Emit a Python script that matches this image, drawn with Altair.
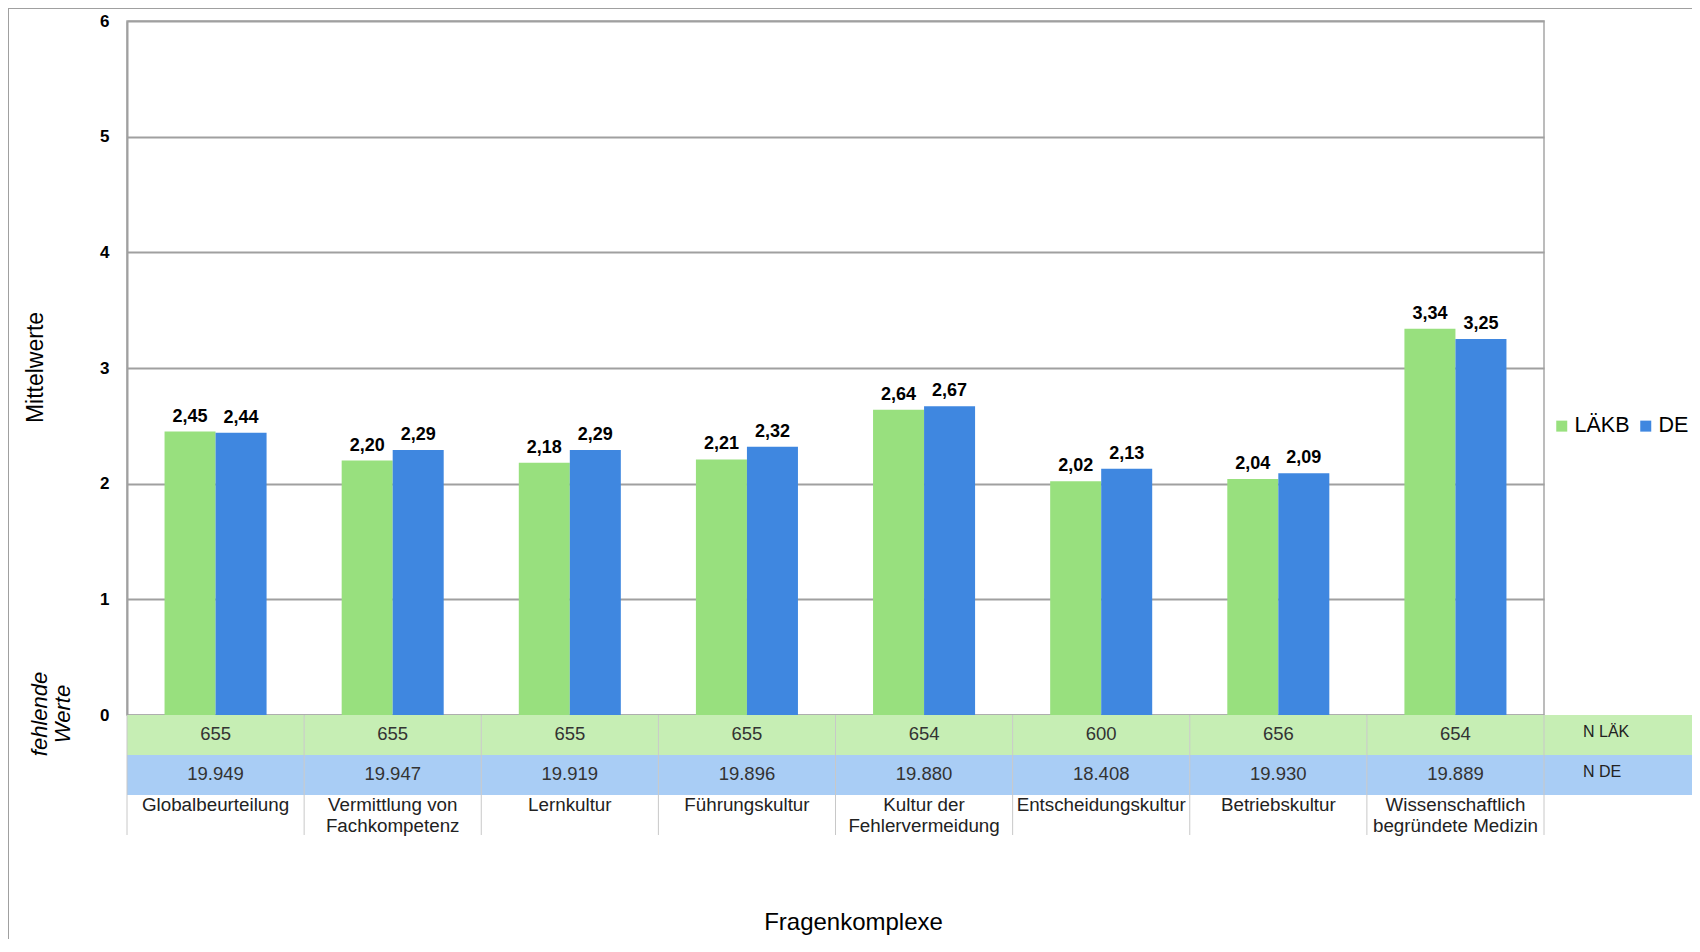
import altair as alt
import pandas as pd

# ---------------- data ----------------
KATEGORIEN = [
    "Globalbeurteilung",
    "Vermittlung von\nFachkompetenz",
    "Lernkultur",
    "Führungskultur",
    "Kultur der\nFehlervermeidung",
    "Entscheidungskultur",
    "Betriebskultur",
    "Wissenschaftlich\nbegründete Medizin",
]
SERIEN = ["LÄKB", "DE"]
WERTE_LAEKB = [2.45, 2.20, 2.18, 2.21, 2.64, 2.02, 2.04, 3.34]
WERTE_DE = [2.44, 2.29, 2.29, 2.32, 2.67, 2.13, 2.09, 3.25]
ZEILEN = ["N LÄK", "N DE"]
N_LAEK = [655, 655, 655, 655, 654, 600, 656, 654]
N_DE = [19949, 19947, 19919, 19896, 19880, 18408, 19930, 19889]
Y_TICKS = [0, 1, 2, 3, 4, 5, 6]

# ---------------- layout / style ----------------
W, H = 1417, 694
TABLE_H = 120
EXTRA_W = 148
BOTTOM = 224
GREEN, BLUE = "#98e07e", "#3f87e0"
GREEN_ROW, BLUE_ROW = "#c6eeb4", "#a9cdf5"
GRID = "#a0a0a0"
FONT = "Liberation Sans"

bars_df = pd.DataFrame({
    "Kategorie": KATEGORIEN * 2,
    "Serie": [SERIEN[0]] * len(KATEGORIEN) + [SERIEN[1]] * len(KATEGORIEN),
    "Wert": WERTE_LAEKB + WERTE_DE,
})
n_df = pd.DataFrame({
    "Kategorie": KATEGORIEN * 2,
    "Zeile": [ZEILEN[0]] * len(KATEGORIEN) + [ZEILEN[1]] * len(KATEGORIEN),
    "N": N_LAEK + N_DE,
})
kat_df = pd.DataFrame({"Kategorie": KATEGORIEN, "Zeile": ["Fragenkomplex"] * len(KATEGORIEN)})
zeilen_df = pd.DataFrame({"Zeile": ZEILEN})
one_df = pd.DataFrame({"a": [0]})

x_scale = alt.Scale(domain=KATEGORIEN, paddingInner=0, paddingOuter=0)
x_axis = alt.Axis(labels=False, ticks=False, domain=False, grid=False,
                  title="Fragenkomplexe", titleFontSize=24, titleFontWeight="normal",
                  titleColor="#000", titleX=726, titleY=207,
                  titleAlign="center", titleBaseline="middle")


def xenc(**kw):
    return alt.X("Kategorie:N", sort=KATEGORIEN, scale=x_scale, axis=x_axis, **kw)


xoff = alt.XOffset("Serie:N", sort=SERIEN,
                   scale=alt.Scale(domain=SERIEN, paddingInner=0, paddingOuter=0.736))

y_axis = alt.Axis(values=Y_TICKS, format="d", ticks=False,
                  labelFontSize=17, labelFontWeight="bold", labelColor="#000", labelPadding=18,
                  grid=True, gridColor=GRID, gridWidth=2,
                  domainColor=GRID, domainWidth=2,
                  title="Mittelwerte", titleFontSize=23, titleFontWeight="normal",
                  titleColor="#000", titleX=-92, titleY=346, titleAngle=270,
                  titleAlign="center", titleBaseline="middle")
y_scale = alt.Scale(domain=[0, 6], nice=False)

bars = alt.Chart(bars_df).mark_bar().encode(
    x=xenc(),
    xOffset=xoff,
    y=alt.Y("Wert:Q", scale=y_scale, axis=y_axis),
    color=alt.Color("Serie:N", sort=SERIEN,
                    scale=alt.Scale(domain=SERIEN, range=[GREEN, BLUE]),
                    legend=alt.Legend(orient="none", legendX=1424, legendY=394,
                                      direction="horizontal", title=None,
                                      symbolType="square", symbolSize=121,
                                      symbolStrokeWidth=0,
                                      labelFontSize=21.5, labelColor="#000",
                                      labelOffset=2, columnPadding=5, padding=0)),
)

value_labels = alt.Chart(bars_df).transform_calculate(
    txt="replace(format(datum.Wert, '.2f'), '.', ',')"
).mark_text(fontSize=18, fontWeight="bold", baseline="alphabetic", dy=-10, color="#000").encode(
    x=xenc(),
    xOffset=xoff,
    y=alt.Y("Wert:Q", scale=y_scale, axis=y_axis),
    text="txt:N",
)

table_y = alt.Scale(domain=ZEILEN + ["Fragenkomplex"], range=[H, H + TABLE_H],
                    paddingInner=0, paddingOuter=0)
fill_scale = alt.Scale(domain=ZEILEN, range=[GREEN_ROW, BLUE_ROW])

cells = alt.Chart(n_df).mark_rect().encode(
    x=xenc(),
    y=alt.Y("Zeile:N", scale=table_y, axis=None),
    fill=alt.Fill("Zeile:N", scale=fill_scale, legend=None),
)
cell_text = alt.Chart(n_df).transform_calculate(
    lbl="replace(format(datum.N, ','), ',', '.')"
).mark_text(fontSize=18.5, color="#333", dy=-1).encode(
    x=xenc(),
    y=alt.Y("Zeile:N", scale=table_y, axis=None),
    text="lbl:N",
)
head_cells = alt.Chart(zeilen_df).mark_rect().encode(
    x=alt.value(W), x2=alt.value(W + EXTRA_W),
    y=alt.Y("Zeile:N", scale=table_y, axis=None),
    fill=alt.Fill("Zeile:N", scale=fill_scale, legend=None),
)
head_text = alt.Chart(zeilen_df).mark_text(align="left", fontSize=16, color="#222", dy=-3).encode(
    x=alt.value(W + 39),
    y=alt.Y("Zeile:N", scale=table_y, axis=None),
    text="Zeile:N",
)
seps = alt.Chart(kat_df).mark_rule(color="#c8c8c8", strokeWidth=1).encode(
    x=xenc(bandPosition=0), y=alt.value(H), y2=alt.value(H + TABLE_H),
)
seps_end = alt.Chart(kat_df).transform_filter(
    alt.datum.Kategorie == KATEGORIEN[-1]
).mark_rule(color="#c8c8c8", strokeWidth=1).encode(
    x=xenc(bandPosition=1), y=alt.value(H), y2=alt.value(H + TABLE_H),
)
kat_text = alt.Chart(kat_df).mark_text(lineBreak="\n", fontSize=18.8, lineHeight=21,
                                       baseline="top", dy=1, color="#222").encode(
    x=xenc(),
    y=alt.Y("Zeile:N", scale=table_y, axis=None, bandPosition=0),
    text="Kategorie:N",
)

fehlende = alt.Chart(one_df).mark_text(lineBreak="\n", angle=270, fontStyle="italic",
                                       fontSize=22, lineHeight=23, color="#000",
                                       align="center", baseline="middle").encode(
    x=alt.value(-87), y=alt.value(693), text=alt.value("fehlende\nWerte"),
)

frame_left = alt.Chart(one_df).mark_rule(color="#a0a0a0", strokeWidth=1).encode(
    x=alt.value(-118.5), y=alt.value(-13), y2=alt.value(H + BOTTOM),
)
frame_top = alt.Chart(one_df).mark_rule(color="#a0a0a0", strokeWidth=1).encode(
    x=alt.value(-119), x2=alt.value(W + EXTRA_W), y=alt.value(-12.5),
)

bars_group = alt.layer(bars, value_labels)
table_group = alt.layer(cells, cell_text, head_cells, head_text, seps, seps_end, kat_text)

chart = alt.layer(bars_group, table_group, fehlende, frame_left, frame_top).resolve_scale(
    y="independent"
).properties(
    width=W, height=H,
    autosize=alt.AutoSizeParams(type="none"),
    padding={"left": 119, "top": 13, "right": EXTRA_W, "bottom": BOTTOM},
).configure(font=FONT).configure_view(stroke="#a6a6a6", strokeWidth=1.5)

chart.save("out.html", embed_options={"renderer": "svg", "actions": False})
